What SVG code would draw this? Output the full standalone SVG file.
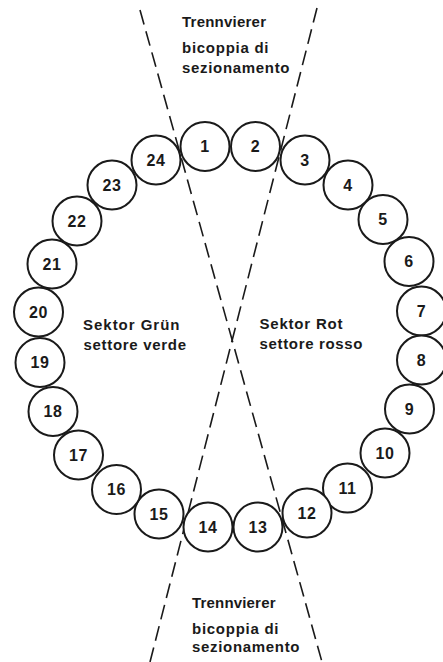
<svg xmlns="http://www.w3.org/2000/svg" width="443" height="662" viewBox="0 0 443 662">
<style>
.bg{fill:#ffffff}
.cut{stroke:#1a1a1a;stroke-width:1.6;stroke-dasharray:15 7;fill:none}
.node circle{fill:#ffffff;stroke:#1a1a1a;stroke-width:2}
.node text{font-family:"Liberation Sans",Arial,sans-serif;font-weight:bold;font-size:16px;fill:#1a1a1a;text-anchor:middle;letter-spacing:0.5px}
.lbl{font-family:"Liberation Sans",Arial,sans-serif;font-weight:bold;font-size:15px;fill:#1a1a1a}
</style>
<rect class="bg" x="0" y="0" width="443" height="662"/>
<g id="connectors">
<line class="cut" x1="140" y1="10" x2="322" y2="662"/>
<line class="cut" x1="317" y1="8" x2="150" y2="662"/>
</g>
<g id="labels">
<text class="lbl" x="182" y="27" textLength="84" lengthAdjust="spacing">Trennvierer</text>
<text class="lbl" x="182" y="53" textLength="86.5" lengthAdjust="spacing">bicoppia di</text>
<text class="lbl" x="182" y="73" textLength="107.5" lengthAdjust="spacing">sezionamento</text>
<text class="lbl" x="83" y="330" textLength="96.5" lengthAdjust="spacing">Sektor Grün</text>
<text class="lbl" x="83.5" y="349.5" textLength="102.5" lengthAdjust="spacing">settore verde</text>
<text class="lbl" x="259.5" y="328.5" textLength="83" lengthAdjust="spacing">Sektor Rot</text>
<text class="lbl" x="259.5" y="348.5" textLength="103" lengthAdjust="spacing">settore rosso</text>
<text class="lbl" x="192" y="608" textLength="83.5" lengthAdjust="spacing">Trennvierer</text>
<text class="lbl" x="192" y="634" textLength="86.5" lengthAdjust="spacing">bicoppia di</text>
<text class="lbl" x="192" y="652" textLength="107.5" lengthAdjust="spacing">sezionamento</text>
</g>
<g id="n1" class="node"><circle cx="205" cy="146.5" r="24.5"/><text x="205" y="152">1</text></g>
<g id="n2" class="node"><circle cx="255.5" cy="146.5" r="24.5"/><text x="255.5" y="152">2</text></g>
<g id="n3" class="node"><circle cx="305" cy="160" r="24.5"/><text x="305" y="165.5">3</text></g>
<g id="n4" class="node"><circle cx="348" cy="185" r="24.5"/><text x="348" y="190.5">4</text></g>
<g id="n5" class="node"><circle cx="383" cy="219.5" r="24.5"/><text x="383" y="225">5</text></g>
<g id="n6" class="node"><circle cx="409" cy="261.5" r="24.5"/><text x="409" y="267">6</text></g>
<g id="n7" class="node"><circle cx="421.5" cy="311" r="24.5"/><text x="421.5" y="316.5">7</text></g>
<g id="n8" class="node"><circle cx="421.5" cy="360" r="24.5"/><text x="421.5" y="365.5">8</text></g>
<g id="n9" class="node"><circle cx="409.5" cy="409" r="24.5"/><text x="409.5" y="414.5">9</text></g>
<g id="n10" class="node"><circle cx="385" cy="453" r="24.5"/><text x="385" y="458.5">10</text></g>
<g id="n11" class="node"><circle cx="347.5" cy="488" r="24.5"/><text x="347.5" y="493.5">11</text></g>
<g id="n12" class="node"><circle cx="307" cy="513" r="24.5"/><text x="307" y="518.5">12</text></g>
<g id="n13" class="node"><circle cx="258" cy="527" r="24.5"/><text x="258" y="532.5">13</text></g>
<g id="n14" class="node"><circle cx="208" cy="527" r="24.5"/><text x="208" y="532.5">14</text></g>
<g id="n15" class="node"><circle cx="159" cy="514" r="24.5"/><text x="159" y="519.5">15</text></g>
<g id="n16" class="node"><circle cx="116.5" cy="489.5" r="24.5"/><text x="116.5" y="495">16</text></g>
<g id="n17" class="node"><circle cx="78.5" cy="455" r="24.5"/><text x="78.5" y="460.5">17</text></g>
<g id="n18" class="node"><circle cx="53" cy="411.5" r="24.5"/><text x="53" y="417">18</text></g>
<g id="n19" class="node"><circle cx="40" cy="362.5" r="24.5"/><text x="40" y="368">19</text></g>
<g id="n20" class="node"><circle cx="38.5" cy="312" r="24.5"/><text x="38.5" y="317.5">20</text></g>
<g id="n21" class="node"><circle cx="52" cy="264" r="24.5"/><text x="52" y="269.5">21</text></g>
<g id="n22" class="node"><circle cx="77" cy="221" r="24.5"/><text x="77" y="226.5">22</text></g>
<g id="n23" class="node"><circle cx="112" cy="185" r="24.5"/><text x="112" y="190.5">23</text></g>
<g id="n24" class="node"><circle cx="156" cy="160" r="24.5"/><text x="156" y="165.5">24</text></g>
</svg>
